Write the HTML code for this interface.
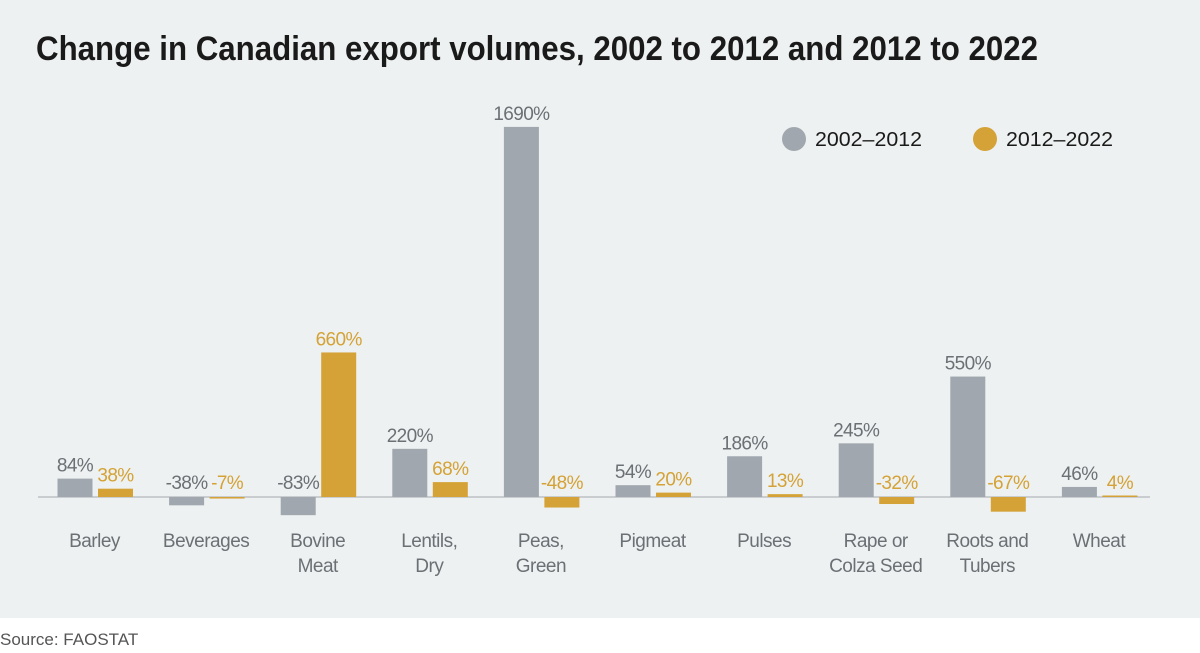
<!DOCTYPE html>
<html><head><meta charset="utf-8"><style>
body{margin:0;width:1200px;height:653px;background:#fff;font-family:"Liberation Sans Narrow","Liberation Sans",sans-serif;overflow:hidden}
#bg{position:absolute;left:0;top:0;width:1200px;height:618px;background:#eef1f1}
svg{position:absolute;left:0;top:0}
</style></head><body>
<div id="bg"></div>
<svg width="1200" height="653" id="chart">
<text x="36" y="60" font-size="34" font-weight="bold" fill="#1a1a1a" textLength="1002" lengthAdjust="spacingAndGlyphs">Change in Canadian export volumes, 2002 to 2012 and 2012 to 2022</text>
<g>
<circle cx="794" cy="139" r="12" fill="#a0a7ae"/>
<text x="815" y="146" font-size="20" fill="#1a1a1a" textLength="107" lengthAdjust="spacingAndGlyphs">2002–2012</text>
<circle cx="985" cy="139" r="12" fill="#d4a236"/>
<text x="1006" y="146" font-size="20" fill="#1a1a1a" textLength="107" lengthAdjust="spacingAndGlyphs">2012–2022</text>
</g>
<line x1="38" x2="1150" y1="497" y2="497" stroke="#c9cdd0" stroke-width="2"/>
<g id="bars"></g>
<text x="0" y="645" font-size="17" fill="#555">Source: FAOSTAT</text>
</svg>
<script>
const categories=[["Barley"],["Beverages"],["Bovine","Meat"],["Lentils,","Dry"],["Peas,","Green"],["Pigmeat"],["Pulses"],["Rape or","Colza Seed"],["Roots and","Tubers"],["Wheat"]];
const series2002=[84,-38,-83,220,1690,54,186,245,550,46];
const series2012=[38,-7,660,68,-48,20,13,-32,-67,4];
const baseY=497, scale=0.219;
function y(v){return baseY-v*scale;}
function cx(i){return 94.5+i*111.6;}
const g=document.getElementById('bars');
const NS="http://www.w3.org/2000/svg";
function mk(t,a){const e=document.createElementNS(NS,t);for(const k in a)e.setAttribute(k,a[k]);g.appendChild(e);return e;}
categories.forEach((c,i)=>{
  [[series2002[i],-37,"#a0a7ae","#6b7075","2002"],[series2012[i],3.5,"#d4a236","#d4a236","2012"]].forEach(([v,off,fill,tc,s])=>{
    const x=cx(i)+off, h=Math.max(Math.abs(v*scale),1.5);
    const r=mk('rect',{x:x,y:v>=0?baseY-h:baseY,width:35,height:h,fill:fill});
    
    
    const ty=v>=0?y(v)-7:baseY-8;
    const t=mk('text',{x:x+17.5,y:ty,'text-anchor':'middle','font-size':19,fill:tc,'letter-spacing':'-0.6'});
    t.textContent=v+'%';
    
    
  });
  c.forEach((line,j)=>{
    const t=mk('text',{x:cx(i),y:547+j*25,'text-anchor':'middle','font-size':19,fill:'#6b7075','letter-spacing':'-0.5'});
    t.textContent=line;
    
    
  });
});
</script>
</body></html>
